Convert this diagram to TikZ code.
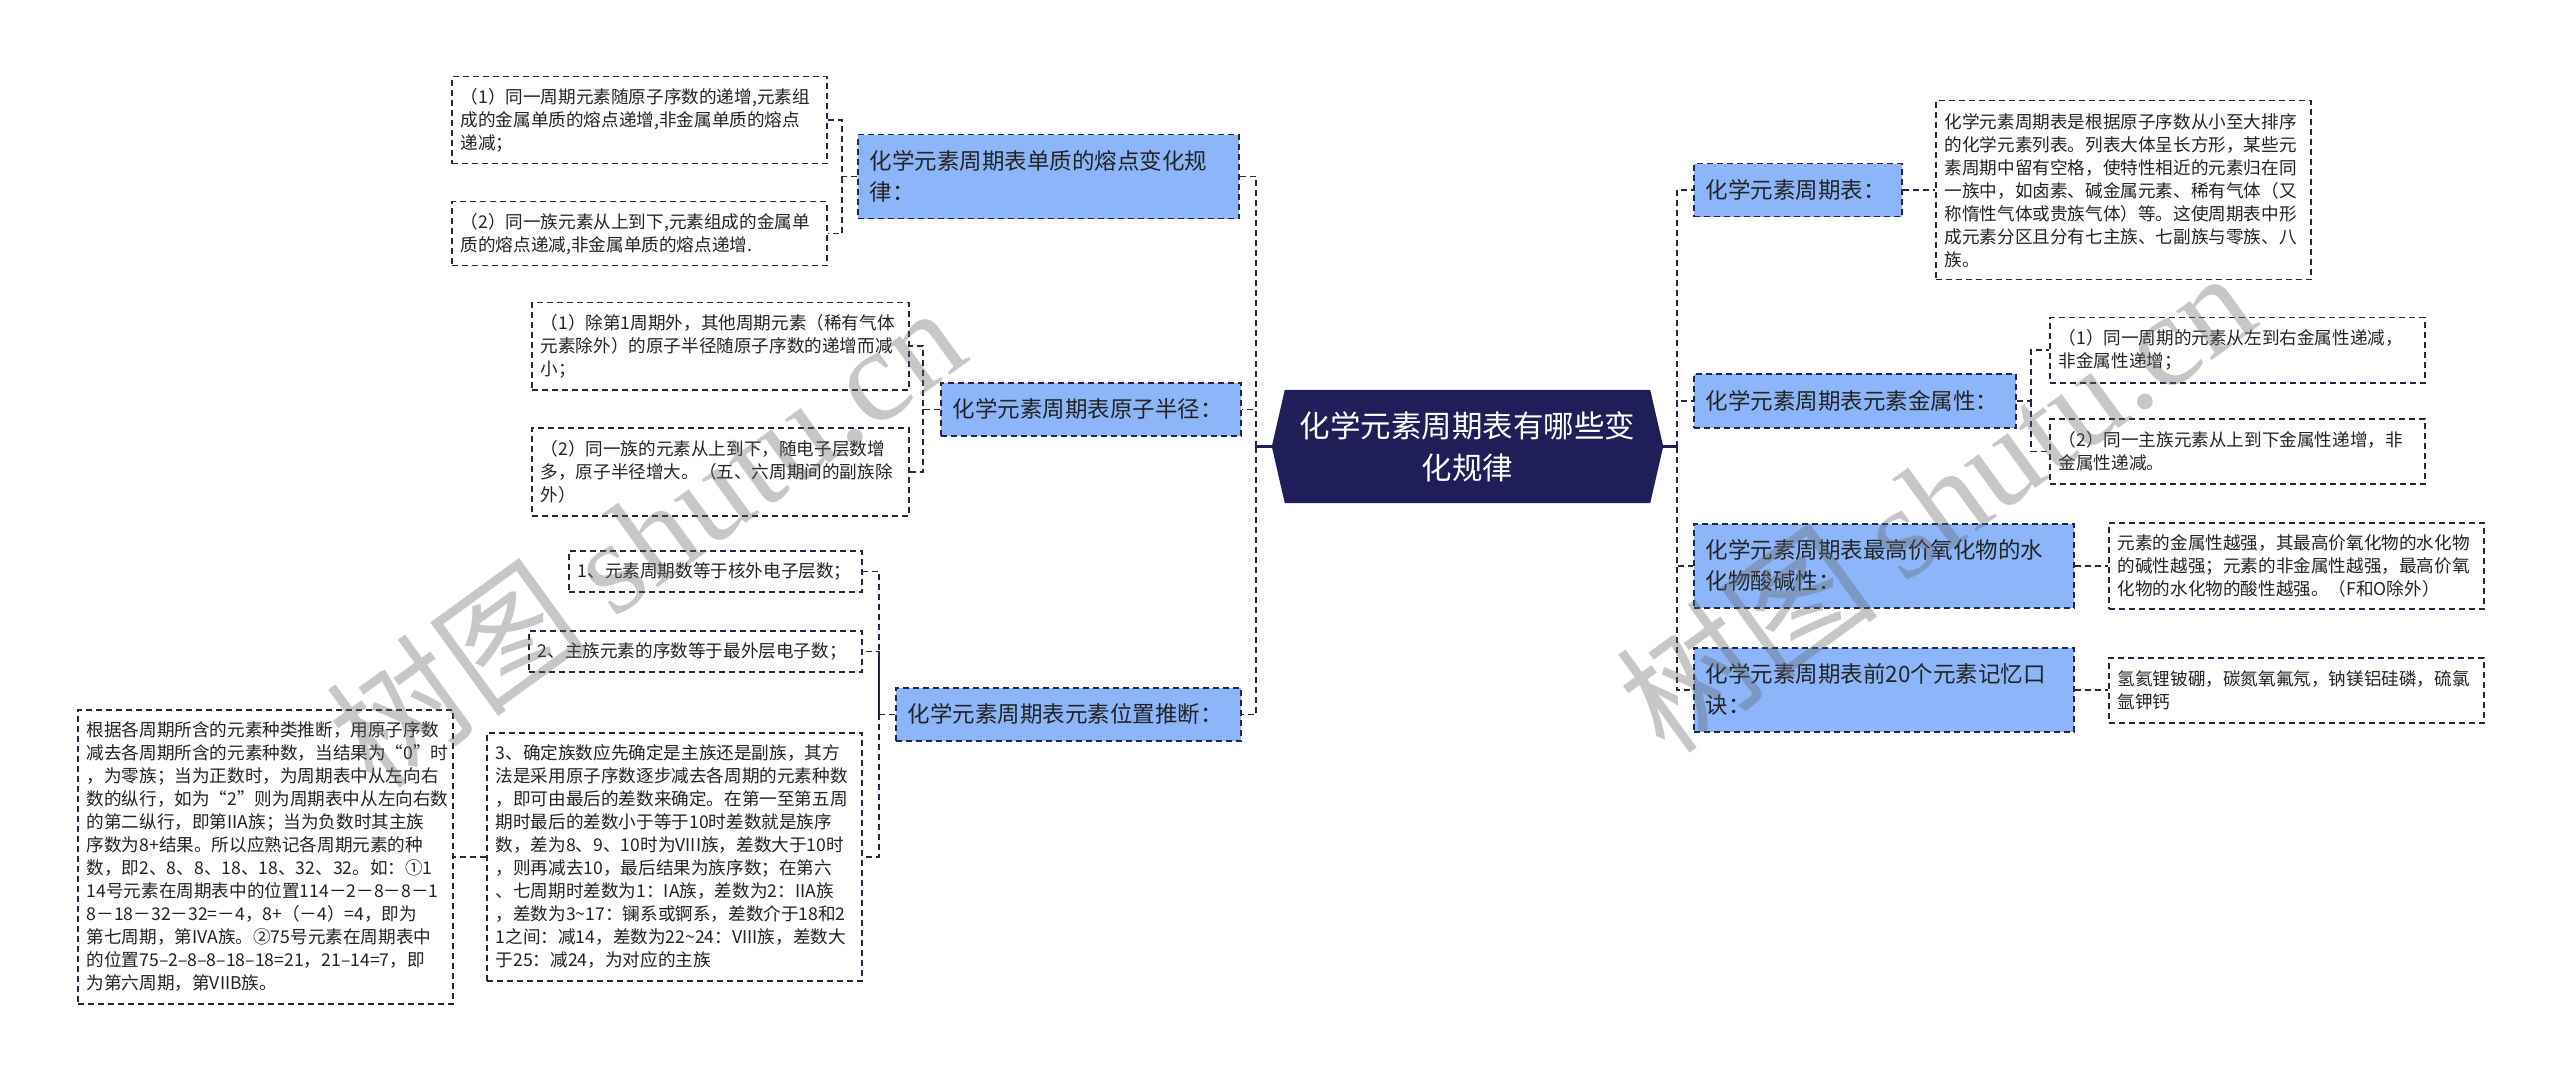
\documentclass[tikz,border=0pt]{standalone}
\usepackage{fontspec}
\setmainfont{Noto Sans CJK SC}
\newfontfamily\wmserif{Liberation Serif}
\usetikzlibrary{backgrounds}
\definecolor{lc}{RGB}{38,38,72}
\definecolor{tb}{RGB}{140,181,250}
\definecolor{navy}{RGB}{31,30,89}
\definecolor{txt}{RGB}{35,35,35}
\begin{document}
\begin{tikzpicture}[x=1pt,y=-1pt,
  leaf/.style={draw=lc, line width=1.5pt, dash pattern=on 6pt off 4pt, fill=white,
    inner xsep=9pt, inner ysep=0pt, align=left, anchor=north west,
    font=\fontsize{17.6}{23}\selectfont, text=txt},
  topic/.style={leaf, fill=tb, inner xsep=12pt, font=\fontsize{22.5}{31}\selectfont},
  rootnode/.style={minimum width=391, minimum height=113, inner sep=0pt, text=white,
    align=center, font=\fontsize{30.5}{42}\selectfont},
  conn/.style={draw=lc, line width=1.5pt, dash pattern=on 6pt off 4pt},
  rootline/.style={draw=navy, line width=2.5pt},
  wm/.style={text=black!60, opacity=0.36, rotate=36, font=\fontsize{132}{132}\selectfont}
]
\useasboundingbox (0,0) rectangle (2560,1083);
\begin{scope}[on background layer]
\fill[white] (0,0) rectangle (2560,1083);
\end{scope}

% root
\node[rootnode] (root) at (1467.5,446.5) {化学元素周期表有哪些变\\化规律};
\begin{scope}[on background layer]
\fill[navy] (root.west) -- ([xshift=13pt]root.north west) -- ([xshift=-13pt]root.north east)
  -- (root.east) -- ([xshift=-13pt]root.south east) -- ([xshift=13pt]root.south west) -- cycle;
\end{scope}

% bus coordinates
\coordinate (lb) at (1256,0);
\coordinate (rb) at (1677,0);
\coordinate (b1) at (842,0);
\coordinate (b2) at (923,0);
\coordinate (b3) at (879,0);
\coordinate (b4) at (2031,0);

% left topics
\node[topic, minimum width=381, minimum height=84, text width=357] (t1) at (857,134) {化学元素周期表单质的熔点变化规\\律：};
\node[topic, minimum width=300, minimum height=53, text width=276] (t2) at (940,382) {化学元素周期表原子半径：};
\node[topic, minimum width=345, minimum height=53, text width=321] (t3) at (895,687) {化学元素周期表元素位置推断：};

% left leaves
\node[leaf, minimum width=375, minimum height=87, text width=357] (l1a) at (451,76) {（1）同一周期元素随原子序数的递增,元素组\\成的金属单质的熔点递增,非金属单质的熔点\\递减；};
\node[leaf, minimum width=375, minimum height=64, text width=357] (l1b) at (451,201) {（2）同一族元素从上到下,元素组成的金属单\\质的熔点递减,非金属单质的熔点递增.};
\node[leaf, minimum width=377, minimum height=87, text width=359] (l2a) at (531,302) {（1）除第1周期外，其他周期元素（稀有气体\\元素除外）的原子半径随原子序数的递增而减\\小；};
\node[leaf, minimum width=377, minimum height=88, text width=359] (l2b) at (531,427) {（2）同一族的元素从上到下，随电子层数增\\多，原子半径增大。（五、六周期间的副族除\\外）};
\node[leaf, minimum width=293, minimum height=41, text width=275] (l3a) at (568,550) {1、元素周期数等于核外电子层数；};
\node[leaf, minimum width=333, minimum height=41, text width=315] (l3b) at (528,630) {2、主族元素的序数等于最外层电子数；};
\node[leaf, minimum width=375, minimum height=248, text width=357] (l3c) at (486,732) {3、确定族数应先确定是主族还是副族，其方\\法是采用原子序数逐步减去各周期的元素种数\\，即可由最后的差数来确定。在第一至第五周\\期时最后的差数小于等于10时差数就是族序\\数，差为8、9、10时为VIII族，差数大于10时\\，则再减去10，最后结果为族序数；在第六\\、七周期时差数为1：IA族，差数为2：IIA族\\，差数为3\textasciitilde17：镧系或锕系，差数介于18和2\\1之间：减14，差数为22\textasciitilde24：VIII族，差数大\\于25：减24，为对应的主族};
\node[leaf, minimum width=375, minimum height=294, text width=357] (l3d) at (77,709) {根据各周期所含的元素种类推断，用原子序数\\减去各周期所含的元素种数，当结果为“0”时\\，为零族；当为正数时，为周期表中从左向右\\数的纵行，如为“2”则为周期表中从左向右数\\的第二纵行，即第IIA族；当为负数时其主族\\序数为8+结果。所以应熟记各周期元素的种\\数，即2、8、8、18、18、32、32。如：①1\\14号元素在周期表中的位置114－2－8－8－1\\8－18－32－32=－4，8+（－4）=4，即为\\第七周期，第IVA族。②75号元素在周期表中\\的位置75–2–8–8–18–18=21，21–14=7，即\\为第六周期，第VIIB族。};

% right topics
\node[topic, minimum width=208, minimum height=53, text width=184] (r1) at (1693,163) {化学元素周期表：};
\node[topic, minimum width=322, minimum height=54, text width=298] (r2) at (1693,373) {化学元素周期表元素金属性：};
\node[topic, minimum width=380, minimum height=84, text width=356] (r3) at (1693,523) {化学元素周期表最高价氧化物的水\\化物酸碱性：};
\node[topic, minimum width=380, minimum height=84, text width=356] (r4) at (1693,647) {化学元素周期表前20个元素记忆口\\诀：};

% right leaves
\node[leaf, minimum width=375, minimum height=179, text width=357] (r1a) at (1935,100) {化学元素周期表是根据原子序数从小至大排序\\的化学元素列表。列表大体呈长方形，某些元\\素周期中留有空格，使特性相近的元素归在同\\一族中，如卤素、碱金属元素、稀有气体（又\\称惰性气体或贵族气体）等。这使周期表中形\\成元素分区且分有七主族、七副族与零族、八\\族。};
\node[leaf, minimum width=375, minimum height=65, text width=357] (r2a) at (2049,317) {（1）同一周期的元素从左到右金属性递减，\\非金属性递增；};
\node[leaf, minimum width=375, minimum height=65, text width=357] (r2b) at (2049,418) {（2）同一主族元素从上到下金属性递增，非\\金属性递减。};
\node[leaf, minimum width=375, minimum height=86, text width=357] (r3a) at (2108,522) {元素的金属性越强，其最高价氧化物的水化物\\的碱性越强；元素的非金属性越强，最高价氧\\化物的水化物的酸性越强。（F和O除外）};
\node[leaf, minimum width=375, minimum height=65, text width=357] (r4a) at (2108,657) {氢氦锂铍硼，碳氮氧氟氖，钠镁铝硅磷，硫氯\\氩钾钙};

% connectors from root
\draw[rootline] (root.west) -- (root.west -| lb);
\draw[rootline] (root.east) -- (root.east -| rb);
\draw[conn] (root.west -| lb) |- (t1.east);
\draw[conn] (root.west -| lb) |- (t2.east);
\draw[conn] (root.west -| lb) |- (t3.east);
\draw[conn] (root.east -| rb) |- (r1.west);
\draw[conn] (root.east -| rb) |- (r2.west);
\draw[conn] (root.east -| rb) |- (r3.west);
\draw[conn] (root.east -| rb) |- (r4.west);

% left children
\draw[conn] (t1.west) -- (t1.west -| b1) |- (l1a.east);
\draw[conn] (t1.west -| b1) |- (l1b.east);
\draw[conn] (t2.west) -- (t2.west -| b2) |- (l2a.east);
\draw[conn] (t2.west -| b2) |- (l2b.east);
\draw[conn] (t3.west) -- (t3.west -| b3) |- (l3a.east);
\draw[conn] (t3.west -| b3) |- (l3b.east);
\draw[conn] (t3.west -| b3) |- (l3c.east);
\draw[conn] (l3c.west) -- (l3c.west -| l3d.east);

% right children
\draw[conn] (r1.east) -- (r1.east -| r1a.west);
\draw[conn] (r2.east) -- (r2.east -| b4) |- (r2a.west);
\draw[conn] (r2.east -| b4) |- (r2b.west);
\draw[conn] (r3.east) -- (r3.east -| r3a.west);
\draw[conn] (r4.east) -- (r4.east -| r4a.west);

% watermarks
\node[wm] (wm1) at (645,535) {树图 {\wmserif shutu.cn}};
\node[wm] (wm2) at (1935,500) {树图 {\wmserif shutu.cn}};
\end{tikzpicture}
\end{document}
